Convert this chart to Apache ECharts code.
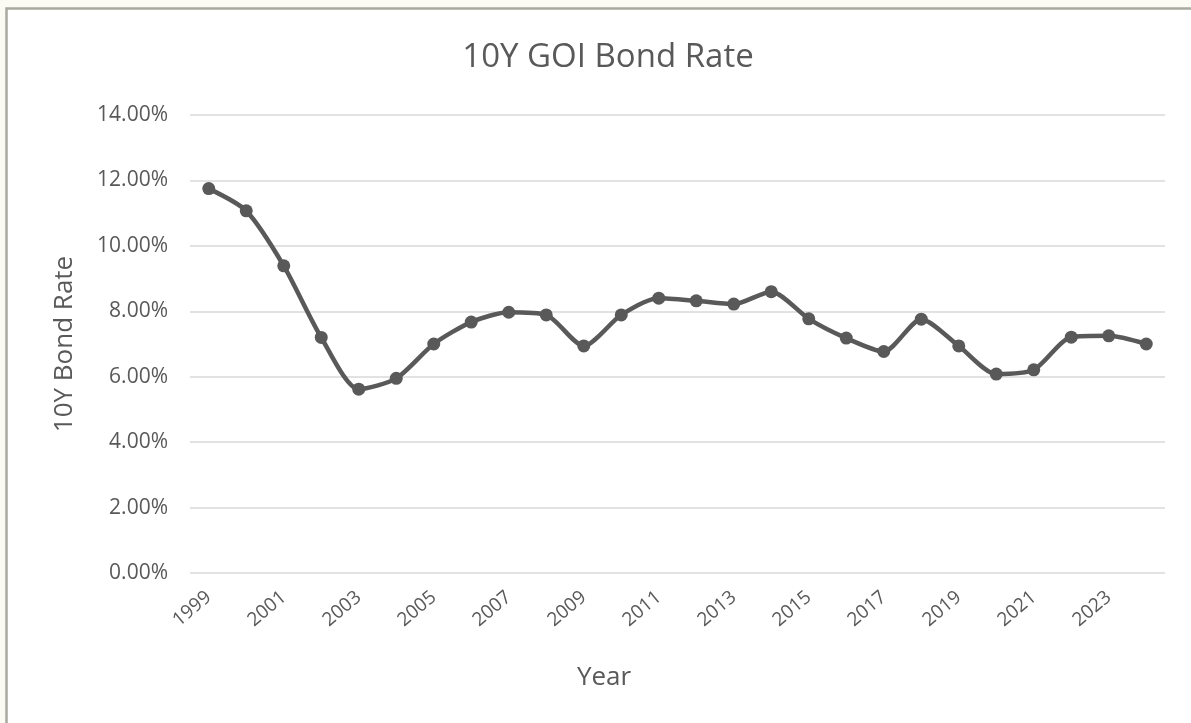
<!DOCTYPE html>
<html>
<head>
<meta charset="utf-8">
<script src="https://cdn.jsdelivr.net/npm/echarts@6/dist/echarts.min.js"></script>
<style>
  html, body { margin: 0; padding: 0; background: #fbfbf4; }
  #chart { width: 1191px; height: 723px; }
</style>
</head>
<body>
<div id="chart"></div>
<script>
// Yearly 10-year Government of India bond yield (%)
const years = ['1999','2000','2001','2002','2003','2004','2005','2006','2007','2008',
  '2009','2010','2011','2012','2013','2014','2015','2016','2017','2018',
  '2019','2020','2021','2022','2023','2024'];
const bondRate = [11.75, 11.07, 9.39, 7.20, 5.62, 5.95, 7.00, 7.67, 7.97, 7.89,
  6.94, 7.89, 8.40, 8.32, 8.22, 8.60, 7.77, 7.18, 6.77, 7.76,
  6.94, 6.08, 6.21, 7.21, 7.25, 7.00];
const yTicks = { min: 0, max: 14, step: 2 };

const ink = '#595959';
const font = '"Open Sans", Lato, sans-serif';

const chart = echarts.init(document.getElementById('chart'));
chart.setOption({
  backgroundColor: '#fbfbf4',
  animation: false,
  graphic: [{
    type: 'rect',
    shape: { x: 6.5, y: 8.5, width: 1200, height: 730 },
    style: { fill: '#ffffff', stroke: '#a9a99f', lineWidth: 2.5 },
    z: -10
  }],
  title: [{
    text: '10Y GOI Bond Rate',
    left: 603,
    textAlign: 'center',
    top: 36,
    textStyle: { color: ink, fontFamily: font, fontSize: 33, fontWeight: 'normal' }
  }, {
    text: 'Year',
    left: 599,
    textAlign: 'center',
    top: 660,
    textStyle: { color: ink, fontFamily: font, fontSize: 26, fontWeight: 'normal' }
  }],
  grid: { left: 190, right: 26, top: 115, bottom: 150 },
  xAxis: {
    type: 'category',
    data: years,
    boundaryGap: true,
    axisLine: { show: false },
    axisTick: { show: false },
    axisLabel: {
      interval: 1,
      rotate: 40,
      margin: 22,
      color: ink,
      fontFamily: font,
      fontSize: 19
    }
  },
  yAxis: {
    type: 'value',
    min: yTicks.min,
    max: yTicks.max,
    interval: yTicks.step,
    name: '10Y Bond Rate',
    nameLocation: 'middle',
    nameGap: 112,
    nameTextStyle: { color: ink, fontFamily: font, fontSize: 26 },
    axisLine: { show: false },
    axisTick: { show: false },
    axisLabel: {
      margin: 22,
      color: ink,
      fontFamily: font,
      fontSize: 21,
      formatter: v => v.toFixed(2) + '%'
    },
    splitLine: { lineStyle: { color: '#d9d9d9', width: 1.5 } }
  },
  series: [{
    type: 'line',
    data: bondRate,
    smooth: 0.25,
    symbol: 'circle',
    symbolSize: 13,
    lineStyle: { color: ink, width: 4.5 },
    itemStyle: { color: ink }
  }]
});
</script>
</body>
</html>
